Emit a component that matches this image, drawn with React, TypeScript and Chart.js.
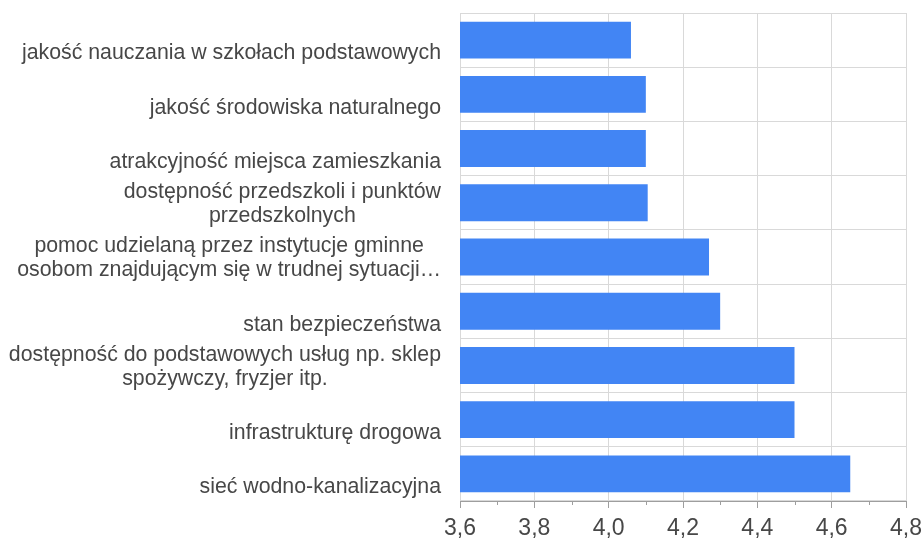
import React, { useEffect, useRef } from 'react';
import { Chart, registerables } from 'chart.js';

Chart.register(...registerables);

const categories: string[][] = [
  ['jakość nauczania w szkołach podstawowych'],
  ['jakość środowiska naturalnego'],
  ['atrakcyjność miejsca zamieszkania'],
  ['dostępność przedszkoli i punktów', 'przedszkolnych'],
  ['pomoc udzielaną przez instytucje gminne', 'osobom znajdującym się w trudnej sytuacji…'],
  ['stan bezpieczeństwa'],
  ['dostępność do podstawowych usług np. sklep', 'spożywczy, fryzjer itp.'],
  ['infrastrukturę drogowa'],
  ['sieć wodno-kanalizacyjna'],
];
const values: number[] = [4.06, 4.1, 4.1, 4.105, 4.27, 4.3, 4.5, 4.5, 4.65];
const xTickLabels: string[] = ['3,6', '3,8', '4,0', '4,2', '4,4', '4,6', '4,8'];
const xMin = 3.6;
const xMax = 4.8;
const xStep = 0.2;
const minorTicks: number[] = [3.7, 3.9, 4.1, 4.3, 4.5, 4.7];

const FONT = '"Liberation Sans", Arial, sans-serif';
const TEXT = '#474747';

const labelPlugin = {
  id: 'catLabels',
  afterDraw(chart: any) {
    const ctx = chart.ctx as CanvasRenderingContext2D;
    const ys = chart.scales.y;
    const xs = chart.scales.x;
    ctx.save();
    ctx.font = `21.3px ${FONT}`;
    ctx.fillStyle = TEXT;
    ctx.textBaseline = 'middle';
    ctx.textAlign = 'center';
    const rightEdge = xs.left - 19;
    categories.forEach((lines, i) => {
      const cy = ys.getPixelForValue(i);
      const widest = Math.max(...lines.map((l) => ctx.measureText(l).width));
      const cx = rightEdge - widest / 2;
      lines.forEach((line, j) => {
        const ly = cy + 13.5 - (lines.length - 1 - j) * 24;
        ctx.fillText(line, cx, ly);
      });
    });
    // minor ticks
    ctx.strokeStyle = '#9e9e9e';
    ctx.lineWidth = 1;
    const axisY = Math.round(xs.top) + 0.5;
    minorTicks.forEach((v) => {
      const px = Math.round(xs.getPixelForValue(v)) + 0.5;
      ctx.beginPath();
      ctx.moveTo(px, axisY);
      ctx.lineTo(px, axisY + 3.5);
      ctx.stroke();
    });
    ctx.restore();
  },
};

export default function App() {
  const ref = useRef<HTMLCanvasElement | null>(null);
  useEffect(() => {
    document.body.style.margin = '0';
    if (!ref.current) return;
    const chart = new Chart(ref.current, {
      type: 'bar',
      data: {
        labels: categories.map((c) => c.join(' ')),
        datasets: [
          {
            data: values,
            backgroundColor: '#4285f4',
            borderWidth: 0,
            categoryPercentage: 1,
            barPercentage: 0.68,
          },
        ],
      },
      options: {
        indexAxis: 'y',
        animation: false,
        responsive: false,
        devicePixelRatio: 1,
        layout: { padding: { top: 13, right: 18, left: 0, bottom: 0 } },
        plugins: { legend: { display: false }, tooltip: { enabled: false } },
        scales: {
          x: {
            type: 'linear',
            min: xMin,
            max: xMax,
            ticks: {
              stepSize: xStep,
              autoSkip: false,
              maxRotation: 0,
              padding: 7,
              color: TEXT,
              font: { size: 23, family: FONT },
              callback: (v: any) => xTickLabels[Math.round((Number(v) - xMin) / xStep)] ?? '',
            },
            grid: {
              color: '#d9d9d9',
              tickColor: '#9e9e9e',
              tickLength: 7,
              lineWidth: 1,
            },
            border: { display: true, color: '#9e9e9e', width: 1 },
            afterFit: (s: any) => {
              s.height = 40;
              s.paddingLeft = 0;
              s.paddingRight = 18;
            },
          },
          y: {
            type: 'category',
            ticks: { display: false },
            grid: { offset: true, color: '#d9d9d9', drawTicks: false, lineWidth: 1 },
            border: { display: false },
            afterFit: (s: any) => {
              s.width = 460;
            },
          },
        },
      },
      plugins: [labelPlugin],
    } as any);
    return () => chart.destroy();
  }, []);
  return (
    <div style={{ width: 924, height: 541 }}>
      <canvas ref={ref} width={924} height={541} />
    </div>
  );
}
